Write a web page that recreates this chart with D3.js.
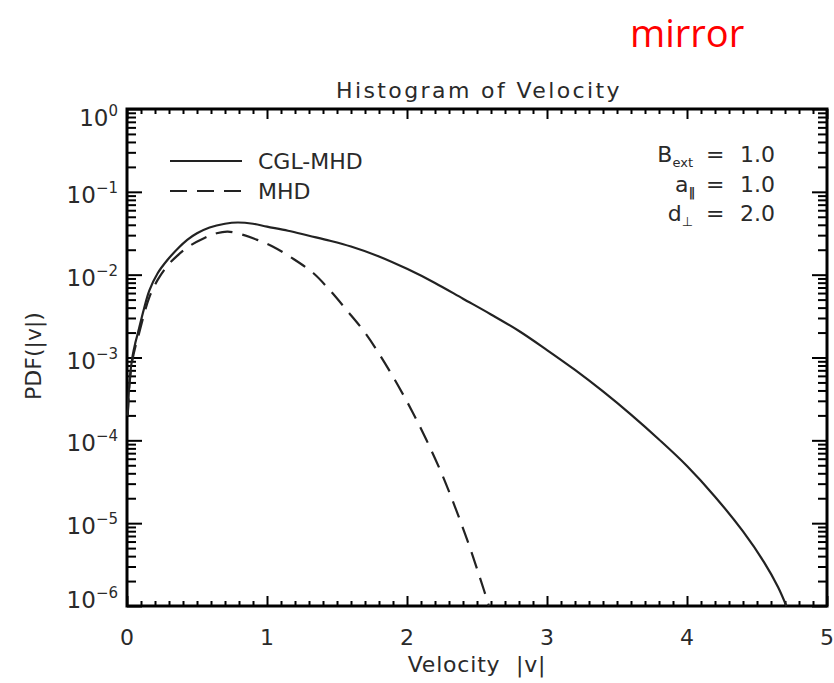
<!DOCTYPE html>
<html lang="en">
<head>
<meta charset="utf-8">
<title>Histogram of Velocity</title>
<script src="https://d3js.org/d3.v7.min.js"></script>
<style>
  body { margin: 0; background: #fff; }
  text { font-family: "DejaVu Sans", sans-serif; fill: #2a2a2a; }
</style>
</head>
<body>
<svg id="chart"></svg>
<script>
// values (PDF given as log10)
var cglV   = [0.005,0.02,0.04,0.06,0.08,0.12,0.16,0.22,0.29,0.36,0.43,0.5,0.59,0.7,0.79,0.9,1.0,1.15,1.3,1.45,1.6,1.8,2.0,2.2,2.4,2.6,2.8,3.0,3.2,3.4,3.6,3.8,4.0,4.2,4.4,4.55,4.65,4.71];
var cglLog = [-3.7,-3.25,-2.98,-2.82,-2.69,-2.42,-2.19,-1.98,-1.82,-1.69,-1.58,-1.5,-1.43,-1.385,-1.37,-1.385,-1.42,-1.47,-1.53,-1.59,-1.66,-1.78,-1.93,-2.1,-2.29,-2.48,-2.68,-2.91,-3.15,-3.41,-3.69,-3.99,-4.31,-4.68,-5.1,-5.47,-5.77,-6.0];

var mhdV   = [0.005,0.02,0.04,0.06,0.08,0.12,0.16,0.22,0.29,0.36,0.45,0.55,0.64,0.72,0.83,0.93,1.04,1.18,1.33,1.45,1.57,1.7,1.81,1.93,2.04,2.14,2.24,2.31,2.38,2.44,2.5,2.55,2.585];
var mhdLog = [-3.7,-3.28,-3.02,-2.87,-2.75,-2.49,-2.27,-2.06,-1.89,-1.77,-1.65,-1.56,-1.5,-1.48,-1.52,-1.58,-1.66,-1.8,-1.98,-2.19,-2.43,-2.7,-2.98,-3.32,-3.66,-4.0,-4.37,-4.66,-4.97,-5.25,-5.55,-5.81,-6.0];

var xTicks = [0,1,2,3,4,5];
var yExp   = [0,-1,-2,-3,-4,-5,-6];

var W = 834, H = 683;
var plot = {left:127, right:827, top:109, bottom:606};

var svg = d3.select("#chart").attr("width", W).attr("height", H);

var x = d3.scaleLinear().domain([0,5]).range([plot.left, plot.right]);
var y = d3.scaleLog().domain([1e-6, 1]).range([plot.bottom, plot.top]);

// minor tick values
var xMinor = d3.range(0, 50).map(i => i/10).filter(v => v % 1 !== 0);
var yMajor = yExp.map(e => Math.pow(10, e));
var yMinor = [];
yExp.slice(1).forEach(function(e){
  for (var k = 2; k <= 9; k++) yMinor.push(k*Math.pow(10, e));
});

function tickAxis(axis, vals, size, tx) {
  svg.append("g")
    .attr("transform", tx)
    .call(axis.tickValues(vals).tickSize(size).tickFormat(""))
    .call(g => g.select(".domain").remove())
    .selectAll("line").attr("stroke", "#000").attr("stroke-width", 2);
}

// ticks pointing inside the box
tickAxis(d3.axisTop(x), xTicks, 10, "translate(0," + plot.bottom + ")");
tickAxis(d3.axisTop(x), xMinor, 5, "translate(0," + plot.bottom + ")");
tickAxis(d3.axisBottom(x), xTicks, 10, "translate(0," + plot.top + ")");
tickAxis(d3.axisBottom(x), xMinor, 5, "translate(0," + plot.top + ")");
tickAxis(d3.axisRight(y), yMajor, 15, "translate(" + plot.left + ",0)");
tickAxis(d3.axisRight(y), yMinor, 9, "translate(" + plot.left + ",0)");
tickAxis(d3.axisLeft(y), yMajor, 15, "translate(" + plot.right + ",0)");
tickAxis(d3.axisLeft(y), yMinor, 9, "translate(" + plot.right + ",0)");

// frame
svg.append("rect")
  .attr("x", plot.left).attr("y", plot.top)
  .attr("width", plot.right - plot.left).attr("height", plot.bottom - plot.top)
  .attr("fill", "none").attr("stroke", "#000").attr("stroke-width", 3);

// curves
var line = d3.line()
  .x(d => x(d[0]))
  .y(d => y(Math.pow(10, d[1])))
  .curve(d3.curveCatmullRom);

svg.append("path")
  .datum(d3.zip(cglV, cglLog))
  .attr("d", line)
  .attr("fill", "none").attr("stroke", "#222").attr("stroke-width", 2.2);

svg.append("path")
  .datum(d3.zip(mhdV, mhdLog))
  .attr("d", line)
  .attr("fill", "none").attr("stroke", "#222").attr("stroke-width", 2.2)
  .attr("stroke-dasharray", "17,10");

// x tick labels
svg.selectAll(".xl").data(xTicks).enter().append("text")
  .attr("x", d => x(d)).attr("y", 645)
  .attr("text-anchor", "middle").attr("font-size", 22)
  .text(d => d);

// y tick labels 10^n
var ylab = svg.selectAll(".yl").data(yExp).enter().append("text")
  .attr("x", 118)
  .attr("y", d => y(Math.pow(10, d)) + (d === 0 ? 17 : d === -6 ? 2 : 11))
  .attr("text-anchor", "end").attr("font-size", 23);
ylab.append("tspan").text("10");
ylab.append("tspan").attr("dy", -10).attr("font-size", 15)
  .text(d => d === 0 ? "0" : "\u2212" + (-d));

// titles
svg.append("text").attr("x", 479).attr("y", 98).attr("text-anchor", "middle")
  .attr("font-size", 22).attr("letter-spacing", 2.4).text("Histogram of Velocity");
svg.append("text").attr("x", 477).attr("y", 672).attr("text-anchor", "middle")
  .attr("font-size", 22).attr("letter-spacing", 0.8)
  .attr("xml:space", "preserve").text("Velocity  |v|");
svg.append("text").attr("transform", "translate(41,356) rotate(-90)")
  .attr("text-anchor", "middle").attr("font-size", 22).text("PDF(|v|)");

// legend
var legend = [["CGL-MHD", null, 161], ["MHD", "17,10", 191]];
legend.forEach(function(l){
  svg.append("line").attr("x1", 170).attr("x2", 242).attr("y1", l[2]).attr("y2", l[2])
    .attr("stroke", "#222").attr("stroke-width", 2.2)
    .attr("stroke-dasharray", l[1]);
  svg.append("text").attr("x", 258).attr("y", l[2] + 8).attr("font-size", 22).text(l[0]);
});

// parameters
var params = [["B", "ext", "1.0", 162], ["a", "||", "1.0", 192], ["d", "\u22a5", "2.0", 221]];
params.forEach(function(p){
  var t = svg.append("text").attr("x", 693).attr("y", p[3]).attr("text-anchor", "end").attr("font-size", 22);
  t.append("tspan").text(p[0]);
  t.append("tspan").attr("dy", 5).attr("font-size", 13)
    .attr("font-weight", p[1] === "||" ? "bold" : "normal")
    .attr("letter-spacing", p[1] === "||" ? -2.5 : 0)
    .text(p[1]);
  svg.append("text").attr("x", 706).attr("y", p[3]).attr("font-size", 22).text("=");
  svg.append("text").attr("x", 740).attr("y", p[3]).attr("font-size", 22).text(p[2]);
});

// red label
svg.append("text").attr("x", 630).attr("y", 47)
  .style("font-family", "'Open Sans', sans-serif").style("fill", "#ff0000")
  .attr("font-size", 38).text("mirror");
</script>
</body>
</html>
